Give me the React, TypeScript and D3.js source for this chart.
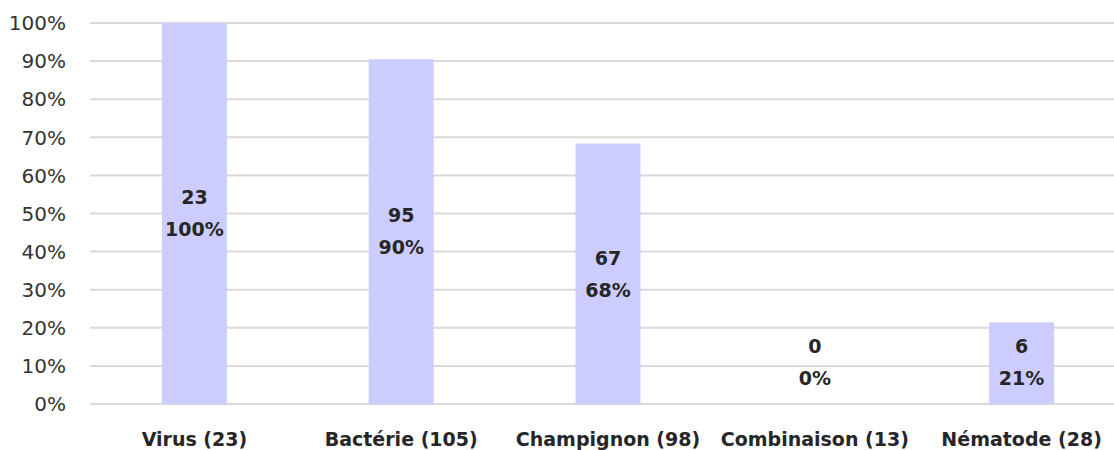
import React from "react";
import * as d3 from "d3";

const categories = ["Virus", "Bactérie", "Champignon", "Combinaison", "Nématode"];
const totals = [23, 105, 98, 13, 28];
const counts = [23, 95, 67, 0, 6];
const yTicks = [0, 0.1, 0.2, 0.3, 0.4, 0.5, 0.6, 0.7, 0.8, 0.9, 1.0];

const W = 1114;
const H = 450;

export default function App() {
  const x = d3
    .scaleBand<string>()
    .domain(categories)
    .range([91, 1125])
    .paddingInner(0.686)
    .paddingOuter(0.343);
  const y = d3.scaleLinear().domain([0, 1]).range([404, 23]);
  const pct = d3.format(".0%");
  const y0 = y(0);

  return (
    <svg
      width={W}
      height={H}
      style={{ position: "absolute", left: 0, top: 0, background: "#fff" }}
    >
      <g>
        {yTicks.map((t) => (
          <line
            key={"g" + t}
            x1={90}
            x2={W}
            y1={y(t)}
            y2={y(t)}
            stroke="#d9d9d9"
            strokeWidth={2}
          />
        ))}
        {yTicks.map((t) => (
          <text
            key={"t" + t}
            x={66}
            y={y(t)}
            dy="0.36em"
            textAnchor="end"
            fontFamily="DejaVu Sans"
            fontSize={20}
            fill="#333"
          >
            {pct(t)}
          </text>
        ))}
      </g>
      <g>
        {categories.map((c, i) => {
          const v = counts[i] / totals[i];
          const top = y(v);
          const bx = x(c)!;
          return (
            <rect
              key={c}
              x={bx}
              y={top}
              width={x.bandwidth()}
              height={y0 - top}
              fill="#ccccff"
            />
          );
        })}
      </g>
      <g fontFamily="DejaVu Sans" fontWeight="bold" fontSize={19} fill="#262626">
        {categories.map((c, i) => {
          const v = counts[i] / totals[i];
          const top = y(v);
          const cx = x(c)! + x.bandwidth() / 2;
          const mid = Math.min((top + y0) / 2, y0 - 42);
          return (
            <g key={c}>
              <text x={cx} y={mid - 16} dy="0.36em" textAnchor="middle">
                {counts[i]}
              </text>
              <text x={cx} y={mid + 16} dy="0.36em" textAnchor="middle">
                {pct(v)}
              </text>
            </g>
          );
        })}
      </g>
      <g fontFamily="DejaVu Sans" fontWeight="bold" fontSize={19} fill="#262626">
        {categories.map((c, i) => (
          <text
            key={c}
            x={x(c)! + x.bandwidth() / 2}
            y={446}
            textAnchor="middle"
          >
            {`${c} (${totals[i]})`}
          </text>
        ))}
      </g>
    </svg>
  );
}
